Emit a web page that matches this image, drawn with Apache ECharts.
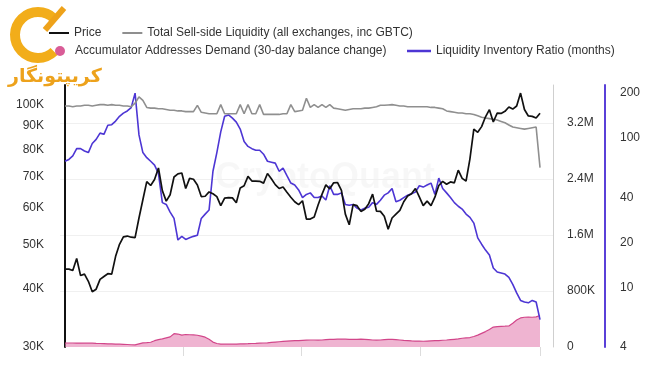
<!DOCTYPE html>
<html>
<head>
<meta charset="utf-8">
<script src="https://cdn.jsdelivr.net/npm/echarts@6/dist/echarts.min.js"></script>
<style>html,body{margin:0;padding:0;background:#fff}#c{width:650px;height:365px}</style>
</head>
<body>
<div id="c"></div>
<script>
// Daily samples every 3 days, starting 2024-01-01 (day 0)
const stepDays = 3;
// BTC price, thousands USD
const price = [
  44.2,44.2,43.9,46.6,42.8,43.1,41.6,39.5,40.0,42.0,
  42.6,43.2,43.1,47.1,50.0,51.9,52.1,51.8,51.7,57.0,
  62.4,68.3,67.0,69.0,73.1,65.3,62.0,64.0,69.9,71.0,
  71.3,66.0,69.4,69.1,67.2,63.4,63.5,64.9,64.3,63.4,
  60.6,62.9,63.1,63.0,61.5,66.2,66.9,70.1,68.5,68.5,
  68.4,67.8,71.1,69.3,67.3,66.0,66.5,64.8,63.2,61.8,
  60.9,62.1,56.7,56.7,57.3,60.8,64.1,67.2,65.9,67.9,
  68.0,65.4,58.1,55.1,60.9,60.6,58.9,59.5,61.2,64.2,
  59.0,58.9,57.5,53.9,57.0,58.1,59.2,61.8,63.6,64.3,
  66.0,63.3,60.6,62.0,60.6,63.2,67.0,68.4,67.4,68.2,
  67.9,72.3,69.4,68.5,76.5,88.7,87.3,89.8,94.3,97.7,
  91.9,96.0,95.9,96.9,99.0,98.0,99.5,106.1,97.8,94.7,
  94.5,93.7,96.0
];
// Total sell-side liquidity, millions BTC
const liquidity = [
  3.44,3.44,3.43,3.44,3.44,3.45,3.45,3.44,3.45,3.46,
  3.46,3.45,3.46,3.45,3.45,3.44,3.44,3.43,3.48,3.57,
  3.52,3.42,3.41,3.41,3.40,3.40,3.39,3.38,3.38,3.37,
  3.37,3.36,3.36,3.36,3.45,3.35,3.34,3.33,3.33,3.33,
  3.46,3.33,3.33,3.33,3.33,3.46,3.33,3.46,3.33,3.33,
  3.46,3.32,3.32,3.32,3.32,3.32,3.33,3.33,3.46,3.36,
  3.37,3.38,3.55,3.42,3.46,3.42,3.46,3.42,3.46,3.41,
  3.40,3.39,3.38,3.39,3.40,3.40,3.40,3.41,3.41,3.42,
  3.43,3.45,3.45,3.455,3.46,3.45,3.44,3.44,3.43,3.43,
  3.43,3.43,3.43,3.43,3.42,3.42,3.41,3.40,3.37,3.36,
  3.35,3.34,3.34,3.33,3.33,3.32,3.30,3.28,3.27,3.26,
  3.25,3.24,3.22,3.20,3.17,3.14,3.13,3.12,3.11,3.12,
  3.13,3.14,2.56
];
// Accumulator addresses demand (30-day balance change), thousands BTC
const demand = [
  57,57,57,56,56,55,55,55,52,50,
  48,46,44,42,40,38,36,32,30,45,
  58,62,68,90,105,115,130,145,190,185,
  170,178,175,172,168,155,140,110,70,50,
  42,40,40,41,42,44,45,47,50,52,
  55,57,60,65,70,75,80,85,88,90,
  92,95,98,100,100,98,100,105,108,110,
  112,113,112,110,108,110,112,110,105,100,
  98,100,104,108,110,105,100,95,92,88,
  85,84,82,85,88,90,92,96,100,105,
  110,115,125,130,135,150,170,195,220,250,
  285,292,295,297,300,340,385,415,425,428,
  425,430,450
];
// Liquidity inventory ratio, months
const ratio = [
  70,72,76,85,85,82,80,92,98,108,
  106,122,123,130,140,147,152,160,200,105,
  80,74,70,66,58,37,36,32,29,20.8,
  22,21,21.5,22,22.4,29,31,33,60,80,
  110,140,143,136,128,115,95,88,85,83,
  83,78,70,69,68,60,63,56,50,48.6,
  45,40,42,43,40,40,41,38.5,48,42,
  42,43,36,35.5,36,34,33,34,34.5,37,
  36,38.4,41.5,43,46,37.5,38.4,40,41.5,42.5,
  43.5,48,47,48.5,50,42,54,46,43,40,
  37,35,33.5,31,29.5,27,21.5,19.5,17.8,16.5,
  13.5,12.7,12.5,12.3,11.7,10.5,9.2,8.2,8.0,7.9,
  8.2,8.0,6.1
];
const priceTicks = [30, 40, 50, 60, 70, 80, 90, 100];   // K USD
const ratioTicks = [4, 10, 20, 40, 100, 200];
const liquidityInterval = 800000;
const xTickDays = [91, 182, 274, 366]; // Apr 1, Jul 1, Oct 1, Jan 1

const names = {
  price: 'Price',
  liq: 'Total Sell-side Liquidity (all exchanges, inc GBTC)',
  dem: 'Accumulator Addresses Demand (30-day balance change)',
  ratio: 'Liquidity Inventory Ratio (months)'
};

const L = Math.log10;
const priceData = price.map((v, i) => [i * stepDays, L(v * 1000)]);
const liqData = liquidity.map((v, i) => [i * stepDays, v * 1e6]);
const demData = demand.map((v, i) => [i * stepDays, v * 1000]);
const ratioData = ratio.map((v, i) => [i * stepDays, L(v)]);

const txt = { color: '#333', fontSize: 12, fontFamily: 'Liberation Sans, Arial, sans-serif' };

const chart = echarts.init(document.getElementById('c'));
chart.setOption({
  animation: false,
  backgroundColor: '#fff',
  textStyle: { fontFamily: 'Liberation Sans, Arial, sans-serif' },
  grid: { left: 60, right: 97, top: 85, bottom: 18 },
  legend: [
    {
      left: 44, top: 22, itemWidth: 20, itemHeight: 2, itemGap: 21, icon: 'rect', z: 10,
      textStyle: txt, data: [names.price, names.liq]
    },
    {
      left: 50, top: 40, itemWidth: 20, itemHeight: 10, itemGap: 21, icon: 'circle', z: 10,
      textStyle: txt, data: [names.dem]
    },
    {
      left: 402, top: 40, itemWidth: 24, itemHeight: 2.5, itemGap: 21, icon: 'rect', z: 10,
      textStyle: txt, data: [names.ratio]
    }
  ],
  graphic: [
    {
      type: 'text', left: 'center', top: 160, z: 0, silent: true,
      style: { text: 'CryptoQuant', fontSize: 36, fontWeight: 'bold', fill: 'rgba(0,0,0,0.03)', fontFamily: 'Liberation Sans, Arial, sans-serif' }
    },
    {
      type: 'arc', z: 1, silent: true,
      shape: { cx: 38, cy: 35, r: 23, startAngle: 0.8, endAngle: Math.PI * 2 - 0.8, clockwise: true },
      style: { stroke: '#f2ad1a', lineWidth: 10, fill: null }
    },
    {
      type: 'line', z: 1, silent: true,
      shape: { x1: 45, y1: 30, x2: 64, y2: 8 },
      style: { stroke: '#eea21a', lineWidth: 6 }
    },
    {
      type: 'text', left: 8, top: 68, z: 1, silent: true,
      style: { text: 'کریپتونگار', fontSize: 19, fontWeight: 'bold', fill: '#eda21c', fontFamily: 'DejaVu Sans' }
    }
  ],
  xAxis: {
    type: 'value', min: -3.85, max: 376,
    axisLine: { show: false },
    axisTick: { show: true, customValues: xTickDays, length: 9, lineStyle: { color: '#dcdcdc' } },
    axisLabel: { show: false },
    splitLine: { show: false }
  },
  yAxis: [
    {
      type: 'value', position: 'left', min: L(30000), max: 5.0432,
      axisLine: { show: true, lineStyle: { color: '#111', width: 2 } },
      axisTick: { show: false },
      splitLine: { show: false },
      axisLabel: Object.assign({}, txt, {
        margin: 16,
        customValues: priceTicks.map(t => L(t * 1000)),
        formatter: v => Math.round(Math.pow(10, v) / 1000) + 'K'
      })
    },
    {
      type: 'value', position: 'right', offset: 0, min: 0, max: 3740000, interval: liquidityInterval,
      axisLine: { show: true, lineStyle: { color: '#cfcfcf', width: 1 } },
      axisTick: { show: false },
      splitLine: { show: true, showMinLine: false, showMaxLine: false, lineStyle: { color: '#f0f0f0', width: 1 } },
      axisLabel: Object.assign({}, txt, {
        margin: 14, showMaxLabel: false,
        formatter: v => v === 0 ? '0' : (v >= 1e6 ? parseFloat((v / 1e6).toFixed(2)) + 'M' : Math.round(v / 1000) + 'K')
      })
    },
    {
      type: 'value', position: 'right', offset: 52, min: L(4), max: 2.3554,
      axisLine: { show: true, lineStyle: { color: '#5a40d8', width: 2 } },
      axisTick: { show: false },
      splitLine: { show: false },
      axisLabel: Object.assign({}, txt, {
        margin: 15,
        customValues: ratioTicks.map(t => L(t)),
        formatter: v => String(Math.round(Math.pow(10, v)))
      })
    }
  ],
  series: [
    {
      name: names.dem, type: 'line', yAxisIndex: 1, data: demData, symbol: 'none', z: 2,
      itemStyle: { color: '#d95c97' },
      lineStyle: { color: '#d2468a', width: 1.2 },
      areaStyle: { color: 'rgba(228,130,178,0.85)' }
    },
    {
      name: names.ratio, type: 'line', yAxisIndex: 2, data: ratioData, symbol: 'none', z: 3,
      itemStyle: { color: '#4d36d4' },
      lineStyle: { color: '#4d36d4', width: 1.6 }
    },
    {
      name: names.liq, type: 'line', yAxisIndex: 1, data: liqData, symbol: 'none', z: 4,
      itemStyle: { color: '#8f8f8f' },
      lineStyle: { color: '#8f8f8f', width: 1.6 }
    },
    {
      name: names.price, type: 'line', yAxisIndex: 0, data: priceData, symbol: 'none', z: 5,
      itemStyle: { color: '#111' },
      lineStyle: { color: '#111', width: 1.7 }
    }
  ]
});
</script>
</body>
</html>
